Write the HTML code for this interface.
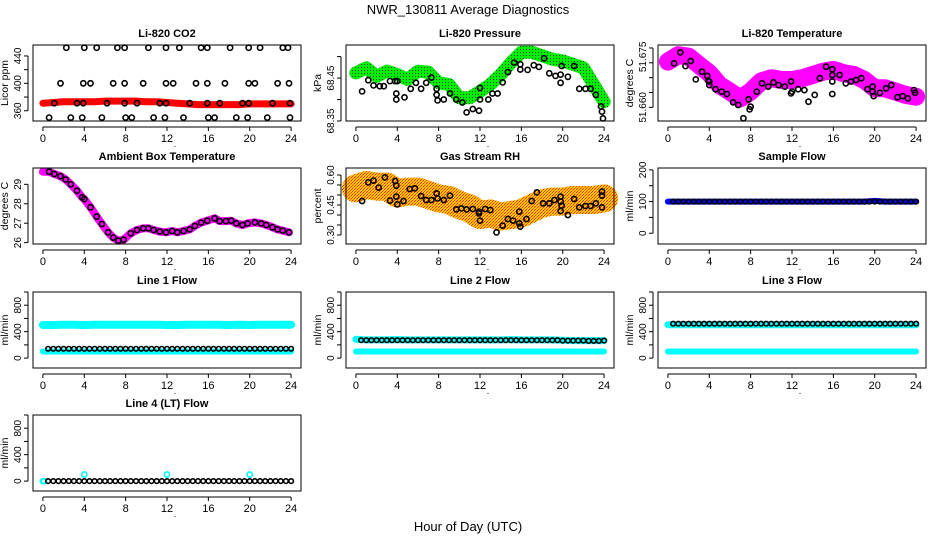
<!DOCTYPE html>
<html><head><meta charset="utf-8"><style>
html,body{margin:0;padding:0;background:#fff;}
svg{display:block;font-family:"Liberation Sans",sans-serif;}
</style></head><body>
<svg id="chart" width="936" height="540" viewBox="0 0 936 540" xmlns="http://www.w3.org/2000/svg">
<defs>
<pattern id="greenDots" width="3" height="3" patternUnits="userSpaceOnUse"><rect width="3" height="3" fill="#00ee00"/><rect x="1" y="1" width="1" height="1" fill="#224422"/></pattern>
<pattern id="orangeDots" width="3" height="3" patternUnits="userSpaceOnUse"><rect width="3" height="3" fill="#ffcc00"/><rect x="0" y="0" width="1" height="1" fill="#ff2200"/><rect x="2" y="1" width="1" height="1" fill="#ff6600"/><rect x="1" y="2" width="1" height="1" fill="#ff2200"/></pattern>
</defs>
<text x="468" y="14" text-anchor="middle" font-size="13">NWR_130811  Average Diagnostics</text>
<text x="468" y="531" text-anchor="middle" font-size="13">Hour of Day (UTC)</text>
</svg>
<script>
// ---- data ----
const bandHours = [0,1,2,3,4,5,6,7,8,9,10,11,12,13,14,15,16,17,18,19,20,21,22,23,24];
const co2Band = [371,372,373,373,373,373,374,374,374,374,373,373,372,371,370,369,369,369,369,369,370,370,370,370,370];
const co2Hours = [2.26,4.0,5.2,7.2,7.9,10.2,11.9,13.2,15.3,15.9,18.1,19.9,21.0,23.2,23.7,
 1.7,3.9,4.6,6.8,7.9,9.7,11.9,12.6,14.8,15.9,17.6,19.9,20.5,22.7,23.8,
 0.6,2.7,3.8,5.7,8.0,8.6,10.7,11.8,13.6,16.0,16.6,18.7,19.8,21.7,23.9,
 1.1,3.3,3.9,6.2,7.9,9.1,11.3,11.9,14.2,15.9,17.1,19.3,19.9,22.2,23.9];
const co2Values = [452,452,452,452,452,452,452,452,452,452,452,452,452,452,452,
 400,400,400,400,400,400,400,400,400,400,400,400,400,400,400,
 350,350,350,350,350,350,350,350,350,350,350,350,350,350,350,
 371,371,371,371,371,371,371,371,371,371,371,371,371,371,371];
const presBand = [68.462,68.474,68.454,68.466,68.458,68.447,68.466,68.464,68.439,68.435,68.404,68.404,68.419,68.435,68.458,68.486,68.510,68.510,68.502,68.494,68.490,68.482,68.474,68.435,68.395];
const presHours = [0.6,1.2,1.7,2.3,2.7,3.3,3.8,3.9,3.9,4,4.7,5.3,5.8,6.3,6.8,7.3,7.8,7.8,7.9,8.5,9.1,9.7,10.3,10.7,11.3,11.9,12,12,12.8,13.2,13.7,14.2,14.7,15.3,15.9,15.9,16.6,17.2,17.7,18.2,18.7,19.3,19.8,19.8,19.9,20.5,21.1,21.6,22.2,22.7,23.2,23.7,23.8,23.9];
const presValues = [68.419,68.445,68.433,68.431,68.431,68.443,68.443,68.400,68.414,68.443,68.405,68.425,68.439,68.425,68.439,68.451,68.425,68.411,68.398,68.400,68.414,68.400,68.393,68.370,68.378,68.374,68.400,68.427,68.400,68.414,68.414,68.440,68.464,68.486,68.470,68.482,68.469,68.480,68.476,68.496,68.461,68.455,68.439,68.458,68.478,68.453,68.478,68.425,68.425,68.425,68.411,68.384,68.372,68.356];
const tempBand = [51.6754,51.6776,51.6771,51.6743,51.6715,51.6675,51.6653,51.6630,51.6653,51.6687,51.6698,51.6692,51.6692,51.6698,51.6709,51.6720,51.6726,51.6715,51.6709,51.6692,51.6664,51.6664,51.6653,51.6642,51.6636];
const tempHours = [0.6,1.2,1.7,2.2,2.7,3.3,3.8,3.9,4,4,4.6,5.2,5.7,6.3,6.8,7.3,7.8,7.9,8,8.6,9.1,9.7,10.2,10.7,11.3,11.9,11.9,12,12.6,13.2,13.6,14.2,14.7,15.3,15.9,15.9,15.9,15.9,16.6,17.2,17.7,18.2,18.7,19.3,19.8,19.8,19.9,20.5,21.1,21.6,22.2,22.7,23.2,23.8,23.9];
const tempValues = [51.6748,51.6785,51.6739,51.6756,51.6694,51.6720,51.6706,51.6690,51.6675,51.6687,51.6661,51.6653,51.6645,51.6617,51.6608,51.6563,51.6627,51.6593,51.6602,51.6653,51.6681,51.6670,51.6684,51.6675,51.6670,51.6687,51.6647,51.6653,51.6661,51.6658,51.6619,51.6642,51.6698,51.6737,51.6728,51.6687,51.6709,51.6645,51.6709,51.6681,51.6687,51.6692,51.6698,51.6661,51.6670,51.6653,51.6638,51.6649,51.6664,51.6675,51.6634,51.6638,51.6630,51.6658,51.6649];
const ambHours = [0,0.6,1.1,1.7,2.2,2.7,3.3,3.8,4,4.6,5.2,5.7,6.3,6.8,7.3,7.8,8.5,9.1,9.7,10.2,10.7,11.3,11.9,12.5,13,13.6,14.2,14.7,15.3,15.9,16.6,17.1,17.7,18.2,18.7,19.3,19.8,20.5,21.1,21.6,22.2,22.7,23.2,23.8];
const ambValues = [29.65,29.65,29.53,29.42,29.25,29.00,28.67,28.33,28.24,27.82,27.34,26.96,26.53,26.26,26.10,26.15,26.48,26.65,26.74,26.74,26.65,26.57,26.53,26.60,26.53,26.60,26.68,26.86,27.03,27.13,27.25,27.11,27.11,27.13,26.99,26.91,26.99,27.04,26.99,26.91,26.79,26.68,26.62,26.53];
const rhBand = [0.533,0.550,0.542,0.542,0.508,0.517,0.517,0.500,0.483,0.475,0.450,0.433,0.400,0.408,0.392,0.400,0.408,0.433,0.458,0.467,0.467,0.475,0.475,0.475,0.483];
const rhHours = [0.6,1.2,1.7,2.2,2.8,3.3,3.8,3.9,3.9,4,4.6,5.2,5.7,6.3,6.8,7.3,7.8,7.9,8.5,9.1,9.7,10.2,10.7,11.3,11.9,11.9,12,12.5,13,13.6,14.2,14.7,15.2,15.8,15.8,15.9,16.5,17,17.5,18.1,18.7,19.2,19.8,19.8,19.8,19.9,20.5,21.1,21.6,22.2,22.7,23.2,23.8,23.8,23.8];
const rhValues = [0.470,0.563,0.572,0.537,0.588,0.472,0.570,0.547,0.492,0.453,0.470,0.530,0.533,0.495,0.475,0.475,0.508,0.483,0.475,0.497,0.428,0.433,0.428,0.430,0.417,0.408,0.372,0.430,0.425,0.313,0.347,0.380,0.372,0.417,0.358,0.342,0.380,0.470,0.513,0.458,0.458,0.475,0.492,0.467,0.420,0.447,0.400,0.480,0.438,0.445,0.445,0.458,0.517,0.497,0.438];
const flowHours = [0.5,1,1.5,2,2.5,3,3.5,4,4.5,5,5.5,6,6.5,7,7.5,8,8.5,9,9.5,10,10.5,11,11.5,12,12.5,13,13.5,14,14.5,15,15.5,16,16.5,17,17.5,18,18.5,19,19.5,20,20.5,21,21.5,22,22.5,23,23.5,24];
const sampleFlow = [100,100,100,100,100,100,100,100,100,100,100,100,100,100,100,100,100,100,100,100,100,100,100,100,100,100,100,100,100,100,100,100,100,100,100,100,100,100,100,100,100,100,100,100,100,100,100,100];
const sampleBand = [100,100,100,100,100,100,100,100,100,100,100,100,100,100,100,100,100,100,100,100,102,100,100,100,100];
const line1Black = [140,140,140,140,140,140,140,140,140,140,140,140,140,140,140,140,140,140,140,140,140,140,140,140,140,140,140,140,140,140,140,140,140,140,140,140,140,140,140,140,140,140,140,140,140,140,140,140];
const line1CyanHigh = [500,500,505,505,500,505,505,505,505,505,505,505,500,500,505,505,505,505,500,505,500,505,505,505,505];
const line1CyanLow = [100,100,100,100,100,100,100,100,100,100,100,100,100,100,100,100,100,100,100,100,100,100,100,100,100];
const line2Black = [270,270,270,270,270,270,270,270,270,270,270,270,270,270,270,270,270,270,270,270,270,270,270,270,270,270,270,270,270,270,270,270,270,270,270,270,270,270,270,265,265,265,265,265,260,260,260,265];
const line2Cyan = [285,275,275,275,280,275,275,275,275,275,275,275,275,275,275,280,275,275,275,275,270,265,265,265,265];
const line2CyanLow = [100,100,100,100,100,100,100,100,100,100,100,100,100,100,100,100,100,100,100,100,100,100,100,100,100];
const line3Black = [520,520,520,520,520,520,520,520,520,520,520,520,520,520,520,520,520,520,520,520,520,520,520,520,520,520,520,520,520,520,520,520,520,520,520,520,520,520,520,520,520,520,520,520,520,520,520,520];
const line3Cyan = [505,505,505,505,505,505,505,505,505,505,505,505,505,505,505,505,505,505,505,505,505,505,505,505,505];
const line3CyanLow = [100,100,100,100,100,100,100,100,100,100,100,100,100,100,100,100,100,100,100,100,100,100,100,100,100];
const line4Black = [0,0,0,0,0,0,0,0,0,0,0,0,0,0,0,0,0,0,0,0,0,0,0,0,0,0,0,0,0,0,0,0,0,0,0,0,0,0,0,0,0,0,0,0,0,0,0,0];
const line4SpikeHours = [0,0.1,4,12,20];
const line4SpikeValues = [0,0,100,100,100];
const xTicks = [0,4,8,12,16,20,24];

// ---- drawing ----
const NS = "http://www.w3.org/2000/svg";
const svg = document.getElementById('chart');
const colLeft = [33, 346, 658];
const rowTop = [45, 168, 292, 415];
const W = 268, H = 76;

function mk(tag, attrs, name, parent) {
  const el = document.createElementNS(NS, tag);
  for (const k in attrs) if (k !== 'text') el.setAttribute(k, attrs[k]);
  
  
  parent.appendChild(el);
  if (attrs.text !== undefined) el.textContent = attrs.text;
  return el;
}

function panel(cfg) {
  const L = colLeft[cfg.col], T = rowTop[cfg.row];
  const g = mk('g', {}, cfg.key + '-panel', svg);
  const xs = h => L + (h + 0.96) / 25.92 * W;
  const ys = v => T + H - (v - cfg.dom[0]) / (cfg.dom[1] - cfg.dom[0]) * H;
  mk('text', {x: L + W / 2, y: T - 8, 'text-anchor': 'middle', 'font-size': 11, 'font-weight': 'bold', text: cfg.title}, cfg.key + '-title', g);
  mk('text', {x: 0, y: 0, transform: `translate(${L - 25},${T + H / 2}) rotate(-90)`, 'text-anchor': 'middle', 'font-size': 10.5, text: cfg.ylab}, cfg.key + '-y-axis-title', g);
  const marks = mk('g', {}, cfg.key + '-marks', g);
  const axis = mk('g', {stroke: '#000', 'stroke-width': 1}, cfg.key + '-axes', g);
  mk('rect', {x: L, y: T, width: W, height: H, fill: 'none', stroke: '#000'}, cfg.key + '-plot-frame', axis);
  mk('line', {x1: xs(0), x2: xs(24), y1: T + H + 6, y2: T + H + 6}, cfg.key + '-x-axis-line', axis);
  xTicks.forEach(t => {
    mk('line', {x1: xs(t), x2: xs(t), y1: T + H + 6, y2: T + H + 10}, cfg.key + '-x-tick', axis);
    mk('text', {x: xs(t), y: T + H + 21, 'text-anchor': 'middle', 'font-size': 11, stroke: 'none', text: String(t)}, cfg.key + '-x-tick-label', g);
  });
  mk('text', {x: L + W / 2 + 8, y: T + H + 26, 'text-anchor': 'middle', 'font-size': 9, text: '.'}, cfg.key + '-x-dot', g);
  const yt = cfg.ticks;
  mk('line', {x1: L - 5, x2: L - 5, y1: ys(yt[0]), y2: ys(yt[yt.length - 1])}, cfg.key + '-y-axis-line', axis);
  yt.forEach(t => {
    mk('line', {x1: L - 9, x2: L - 5, y1: ys(t), y2: ys(t)}, cfg.key + '-y-tick', axis);
  });
  cfg.labels.forEach((t, i) => {
    const txt = cfg.labelText ? cfg.labelText[i] : String(t);
    mk('text', {x: 0, y: 0, transform: `translate(${L - 12},${ys(t)}) rotate(-90)`, 'text-anchor': 'middle', 'font-size': 10, text: txt}, cfg.key + '-y-tick-label', g);
  });
  return {xs, ys, marks, key: cfg.key};
}

function band(p, hours, vals, color, width, name) {
  const d = hours.map((h, i) => (i ? 'L' : 'M') + p.xs(h).toFixed(1) + ',' + p.ys(vals[i]).toFixed(1)).join('');
  mk('path', {d, fill: 'none', stroke: color, 'stroke-width': width, 'stroke-linecap': 'round', 'stroke-linejoin': 'round'}, name, p.marks);
}
function pts(p, hours, vals, color, name, r) {
  hours.forEach((h, i) => {
    mk('circle', {cx: p.xs(h).toFixed(1), cy: p.ys(vals[i]).toFixed(1), r: r || 2.6, fill: 'none', stroke: color, 'stroke-width': 1.6}, name, p.marks);
  });
}

const flowTicks = [0,200,400,600,800,1000];
const flowLabels = [0,400,800];

let p = panel({key: 'co2', col: 0, row: 0, title: 'Li-820 CO2', ylab: 'Licor ppm', dom: [345, 456], ticks: [360,380,400,420,440], labels: [360,400,440]});
band(p, bandHours, co2Band, '#ff0000', 7, 'co2-band');
pts(p, co2Hours, co2Values, '#000', 'co2-point');

p = panel({key: 'pressure', col: 1, row: 0, title: 'Li-820 Pressure', ylab: 'kPa', dom: [68.35, 68.527], ticks: [68.35,68.40,68.45,68.50], labels: [68.35,68.45], labelText: ['68.35','68.45']});
band(p, bandHours, presBand, 'url(#greenDots)', 13, 'pressure-band');
pts(p, presHours, presValues, '#000', 'pressure-point');

p = panel({key: 'temperature', col: 2, row: 0, title: 'Li-820 Temperature', ylab: 'degrees C', dom: [51.6554, 51.6810], ticks: [51.660,51.665,51.670,51.675,51.680], labels: [51.660,51.677], labelText: ['51.660','51.675']});
band(p, bandHours, tempBand, '#ff00ff', 18, 'temperature-band');
pts(p, tempHours, tempValues, '#000', 'temperature-point');

p = panel({key: 'ambient', col: 0, row: 1, title: 'Ambient Box Temperature', ylab: 'degrees C', dom: [25.93, 29.84], ticks: [26,27,28,29], labels: [26,27,28,29]});
band(p, ambHours, ambValues, '#ff00ff', 8, 'ambient-band');
pts(p, ambHours.slice(1), ambValues.slice(1), '#000', 'ambient-point');

p = panel({key: 'rh', col: 1, row: 1, title: 'Gas Stream RH', ylab: 'percent', dom: [0.255, 0.635], ticks: [0.30,0.35,0.40,0.45,0.50,0.55,0.60], labels: [0.30,0.45,0.60], labelText: ['0.30','0.45','0.60']});
band(p, bandHours, rhBand, 'url(#orangeDots)', 28, 'rh-band');
pts(p, rhHours, rhValues, '#000', 'rh-point');

p = panel({key: 'sample-flow', col: 2, row: 1, title: 'Sample Flow', ylab: 'ml/min', dom: [-34, 206], ticks: [0,50,100,150,200], labels: [0,100,200]});
band(p, bandHours, sampleBand, '#0000ff', 6, 'sample-flow-band');
pts(p, flowHours, sampleFlow, '#000', 'sample-flow-point', 2.3);

p = panel({key: 'line1', col: 0, row: 2, title: 'Line 1 Flow', ylab: 'ml/min', dom: [-150, 1000], ticks: flowTicks, labels: flowLabels});
band(p, bandHours, line1CyanHigh, '#00ffff', 8, 'line1-cyan-high');
band(p, bandHours, line1CyanLow, '#00ffff', 6, 'line1-cyan-low');
pts(p, flowHours, line1Black, '#000', 'line1-point', 2.3);

p = panel({key: 'line2', col: 1, row: 2, title: 'Line 2 Flow', ylab: 'ml/min', dom: [-150, 1000], ticks: flowTicks, labels: flowLabels});
band(p, bandHours, line2Cyan, '#00ffff', 7, 'line2-cyan-high');
band(p, bandHours, line2CyanLow, '#00ffff', 6, 'line2-cyan-low');
pts(p, flowHours, line2Black, '#000', 'line2-point', 2.3);

p = panel({key: 'line3', col: 2, row: 2, title: 'Line 3 Flow', ylab: 'ml/min', dom: [-150, 1000], ticks: flowTicks, labels: flowLabels});
band(p, bandHours, line3Cyan, '#00ffff', 7, 'line3-cyan-high');
band(p, bandHours, line3CyanLow, '#00ffff', 6, 'line3-cyan-low');
pts(p, flowHours, line3Black, '#000', 'line3-point', 2.3);

p = panel({key: 'line4', col: 0, row: 3, title: 'Line 4 (LT) Flow', ylab: 'ml/min', dom: [-150, 1000], ticks: flowTicks, labels: flowLabels});
pts(p, line4SpikeHours, line4SpikeValues, '#00ffff', 'line4-cyan-point', 2.6);
pts(p, flowHours, line4Black, '#000', 'line4-point', 2.3);
</script>
</body></html>
